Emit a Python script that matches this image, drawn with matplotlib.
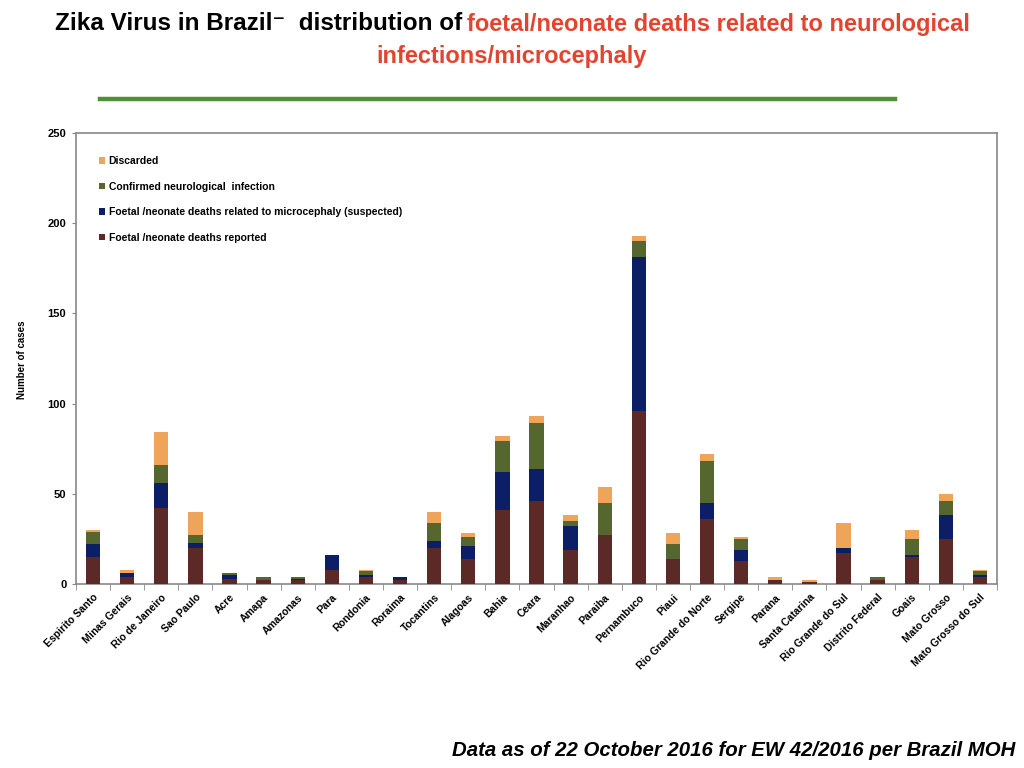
import matplotlib
matplotlib.use("Agg")
import matplotlib.pyplot as plt
import numpy as np

plt.rcParams['font.family'] = ['Liberation Sans', 'DejaVu Sans']

states = ["Espirito Santo", "Minas Gerais", "Rio de Janeiro", "Sao Paulo", "Acre",
          "Amapa", "Amazonas", "Para", "Rondonia", "Roraima", "Tocantins", "Alagoas",
          "Bahia", "Ceara", "Maranhao", "Paraiba", "Pernambuco", "Piaui",
          "Rio Grande do Norte", "Sergipe", "Parana", "Santa Catarina",
          "Rio Grande do Sul", "Distrito Federal", "Goais", "Mato Grosso",
          "Mato Grosso do Sul"]

deaths_reported = [15, 4, 42, 20, 3, 2, 2, 8, 4, 2, 20, 14, 41, 46, 19, 27, 96, 14,
                   36, 13, 2, 1, 17, 2, 15, 25, 4]
deaths_microcephaly = [7, 2, 14, 3, 2, 0, 1, 8, 1, 2, 4, 7, 21, 18, 13, 0, 85, 0,
                       9, 6, 0, 0, 3, 0, 1, 13, 1]
confirmed_neuro = [7, 0, 10, 4, 1, 2, 1, 0, 2, 0, 10, 5, 17, 25, 3, 18, 9, 8,
                   23, 6, 0, 0, 0, 2, 9, 8, 2]
discarded = [1, 2, 18, 13, 0, 0, 0, 0, 1, 0, 6, 2, 3, 4, 3, 9, 3, 6,
             4, 1, 2, 1, 14, 0, 5, 4, 1]

series_labels = ["Foetal /neonate deaths reported",
                 "Foetal /neonate deaths related to microcephaly (suspected)",
                 "Confirmed neurological  infection",
                 "Discarded"]
colors = ["#5C2A26", "#0C1E66", "#56662F", "#EEA55A"]

fig = plt.figure(figsize=(10.24, 7.68), dpi=100)
ax = fig.add_axes([76/1024, 1 - 584/768, (997-76)/1024, (584-133)/768])

x = np.arange(len(states))
bottom = np.zeros(len(states))
handles = []
for vals, lab, col in zip([deaths_reported, deaths_microcephaly, confirmed_neuro, discarded],
                          series_labels, colors):
    v = np.array(vals, dtype=float)
    h = ax.bar(x, v, width=0.42, bottom=bottom, color=col, label=lab, zorder=3)
    handles.append(h)
    bottom += v

ax.set_xlim(-0.5, len(states) - 0.5)
ax.set_ylim(0, 250)
ax.set_yticks([0, 50, 100, 150, 200, 250])
ax.set_yticklabels(["0", "50", "100", "150", "200", "250"], fontsize=8, fontweight='bold')
ax.set_xticks(x)
ax.set_xticklabels(states, rotation=45, ha='right', rotation_mode='anchor',
                   fontsize=7.5, fontweight='bold')
ax.tick_params(axis='x', length=0, pad=6)
ax.set_xticks(np.arange(-0.5, len(states), 1), minor=True)
ax.tick_params(axis='x', which='minor', length=4, color='#888888')
ax.tick_params(axis='y', length=3, color='#888888', pad=4)
for s in ax.spines.values():
    s.set_color('#888888')
    s.set_linewidth(1.2)

fig.text(22/1024, 1 - 360/768, "Number of cases", rotation=90, ha='center', va='center',
         fontsize=7, fontweight='bold')

leg = ax.legend(handles[::-1], series_labels[::-1], loc='upper left',
                bbox_to_anchor=(0.015, 0.97), frameon=False,
                prop={'weight': 'bold', 'size': 7.5}, handlelength=0.6, handleheight=0.6,
                handletextpad=0.3, labelspacing=1.5)

fig.text(55/1024, 1 - 24/768, "Zika Virus in Brazil\u207b  distribution of", ha='left',
         va='center', fontsize=17.5, fontweight='bold', color='black',
         family=['Liberation Sans', 'DejaVu Sans'])
fig.text(970/1024, 1 - 24/768, "foetal/neonate deaths related to neurological", ha='right',
         va='center', fontsize=17, fontweight='bold', color='#E2452F')
fig.text(512/1024, 1 - 56/768, "infections/microcephaly", ha='center', va='center',
         fontsize=17, fontweight='bold', color='#E2452F')

fig.add_artist(plt.Line2D([100/1024, 895/1024], [1 - 99/768, 1 - 99/768],
                          color='#4A9234', linewidth=3.2))

fig.text(1015/1024, 1 - 750/768, "Data as of 22 October 2016 for EW 42/2016 per Brazil MOH",
         ha='right', va='center', fontsize=14.7, fontweight='bold', style='italic')

fig.savefig("out.png", dpi=100)
